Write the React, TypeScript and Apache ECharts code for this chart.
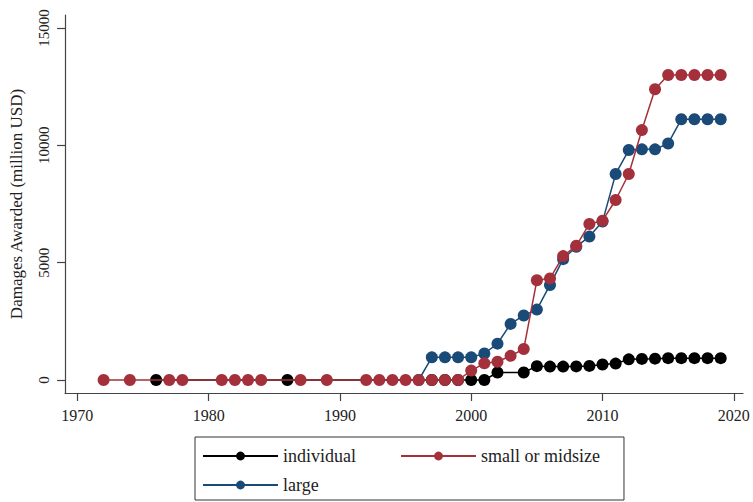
import React, { useEffect, useRef } from "react";
import * as echarts from "echarts";

const individualYears = [1976, 1986, 1997, 1998, 1999, 2000, 2001, 2002, 2004, 2005, 2006, 2007, 2008, 2009, 2010, 2011, 2012, 2013, 2014, 2015, 2016, 2017, 2018, 2019];
const individualValues = [0, 0, 0, 0, 0, 0, 0, 320, 320, 590, 570, 570, 580, 600, 660, 700, 880, 900, 910, 930, 930, 930, 930, 930];

const smallYears = [1972, 1974, 1977, 1978, 1981, 1982, 1983, 1984, 1987, 1989, 1992, 1993, 1994, 1995, 1996, 1997, 1998, 1999, 2000, 2001, 2002, 2003, 2004, 2005, 2006, 2007, 2008, 2009, 2010, 2011, 2012, 2013, 2014, 2015, 2016, 2017, 2018, 2019];
const smallValues = [0, 0, 0, 0, 0, 0, 0, 0, 0, 0, 0, 0, 0, 0, 0, 0, 0, 0, 400, 710, 780, 1030, 1320, 4250, 4330, 5280, 5720, 6650, 6790, 7670, 8780, 10650, 12390, 13000, 13000, 13000, 13000, 13000];

const largeYears = [1996, 1997, 1998, 1999, 2000, 2001, 2002, 2003, 2004, 2005, 2006, 2007, 2008, 2009, 2010, 2011, 2012, 2013, 2014, 2015, 2016, 2017, 2018, 2019];
const largeValues = [0, 965, 965, 965, 965, 1130, 1550, 2390, 2750, 3000, 4050, 5150, 5680, 6110, 6750, 8780, 9800, 9830, 9830, 10080, 11110, 11110, 11110, 11110];

const xTicks = [1970, 1980, 1990, 2000, 2010, 2020];
const yTicks = [0, 5000, 10000, 15000];

const seriesNames = ["individual", "small or midsize", "large"];
const yTitle = "Damages Awarded (million USD)";

const FONT = "'Liberation Serif', 'DejaVu Serif', serif";
const BLACK = "#000000";
const RED = "#a3303a";
const BLUE = "#1a4a78";

function pairs(xs: number[], ys: number[]) {
  return xs.map((x, i) => [x, ys[i]]);
}

export default function App() {
  const ref = useRef<HTMLDivElement>(null);
  useEffect(() => {
    if (!ref.current) return;
    const chart = echarts.init(ref.current, undefined, { renderer: "svg" });
    const mkSeries = (name: string, data: number[][], color: string, z: number) => ({
      name,
      type: "line",
      data,
      z,
      symbol: "circle",
      symbolSize: 12,
      showSymbol: true,
      color,
      itemStyle: { color },
      lineStyle: { color, width: 1.5 },
    });
    const plain = (v: number) => String(Math.round(v));
    chart.setOption({
      animation: false,
      backgroundColor: "#ffffff",
      grid: { left: 65, right: 10, top: 15, bottom: 109, containLabel: false },
      xAxis: {
        type: "value",
        min: 1969.06,
        max: 2020.7,
        splitLine: { show: false },
        axisLine: { show: true, onZero: false, lineStyle: { color: "#444", width: 1.2 } },
        axisTick: { show: true, length: 8, customValues: xTicks, lineStyle: { color: "#444", width: 1.2 } },
        axisLabel: {
          customValues: xTicks,
          formatter: plain,
          color: "#222",
          fontFamily: FONT,
          fontSize: 16,
          margin: 14,
        },
      },
      yAxis: {
        type: "value",
        min: -554,
        max: 15554,
        splitLine: { show: false },
        name: yTitle,
        nameLocation: "middle",
        nameGap: 40,
        nameTextStyle: { fontFamily: FONT, fontSize: 17, color: "#222" },
        axisLine: { show: true, onZero: false, lineStyle: { color: "#444", width: 1.2 } },
        axisTick: { show: true, length: 8, customValues: yTicks, lineStyle: { color: "#444", width: 1.2 } },
        axisLabel: {
          customValues: yTicks,
          formatter: plain,
          rotate: 90,
          color: "#222",
          fontFamily: FONT,
          fontSize: 15,
          margin: 14,
        },
      },
      legend: {
        data: seriesNames,
        left: 195,
        top: 437,
        width: 400,
        orient: "horizontal",
        itemWidth: 75,
        itemHeight: 11,
        itemGap: 11,
        padding: [10, 24, 6, 7],
        borderColor: "#333",
        borderWidth: 1,
        borderRadius: 0,
        textStyle: { fontFamily: FONT, fontSize: 18, color: "#222", width: 106, lineHeight: 17 },
      },
      series: [
        mkSeries(seriesNames[0], pairs(individualYears, individualValues), BLACK, 1),
        mkSeries(seriesNames[2], pairs(largeYears, largeValues), BLUE, 2),
        mkSeries(seriesNames[1], pairs(smallYears, smallValues), RED, 3),
      ],
    });
    return () => chart.dispose();
  }, []);
  return (
    <div
      ref={ref}
      style={{ position: "fixed", left: 0, top: 0, width: 753, height: 502, background: "#fff" }}
    />
  );
}
